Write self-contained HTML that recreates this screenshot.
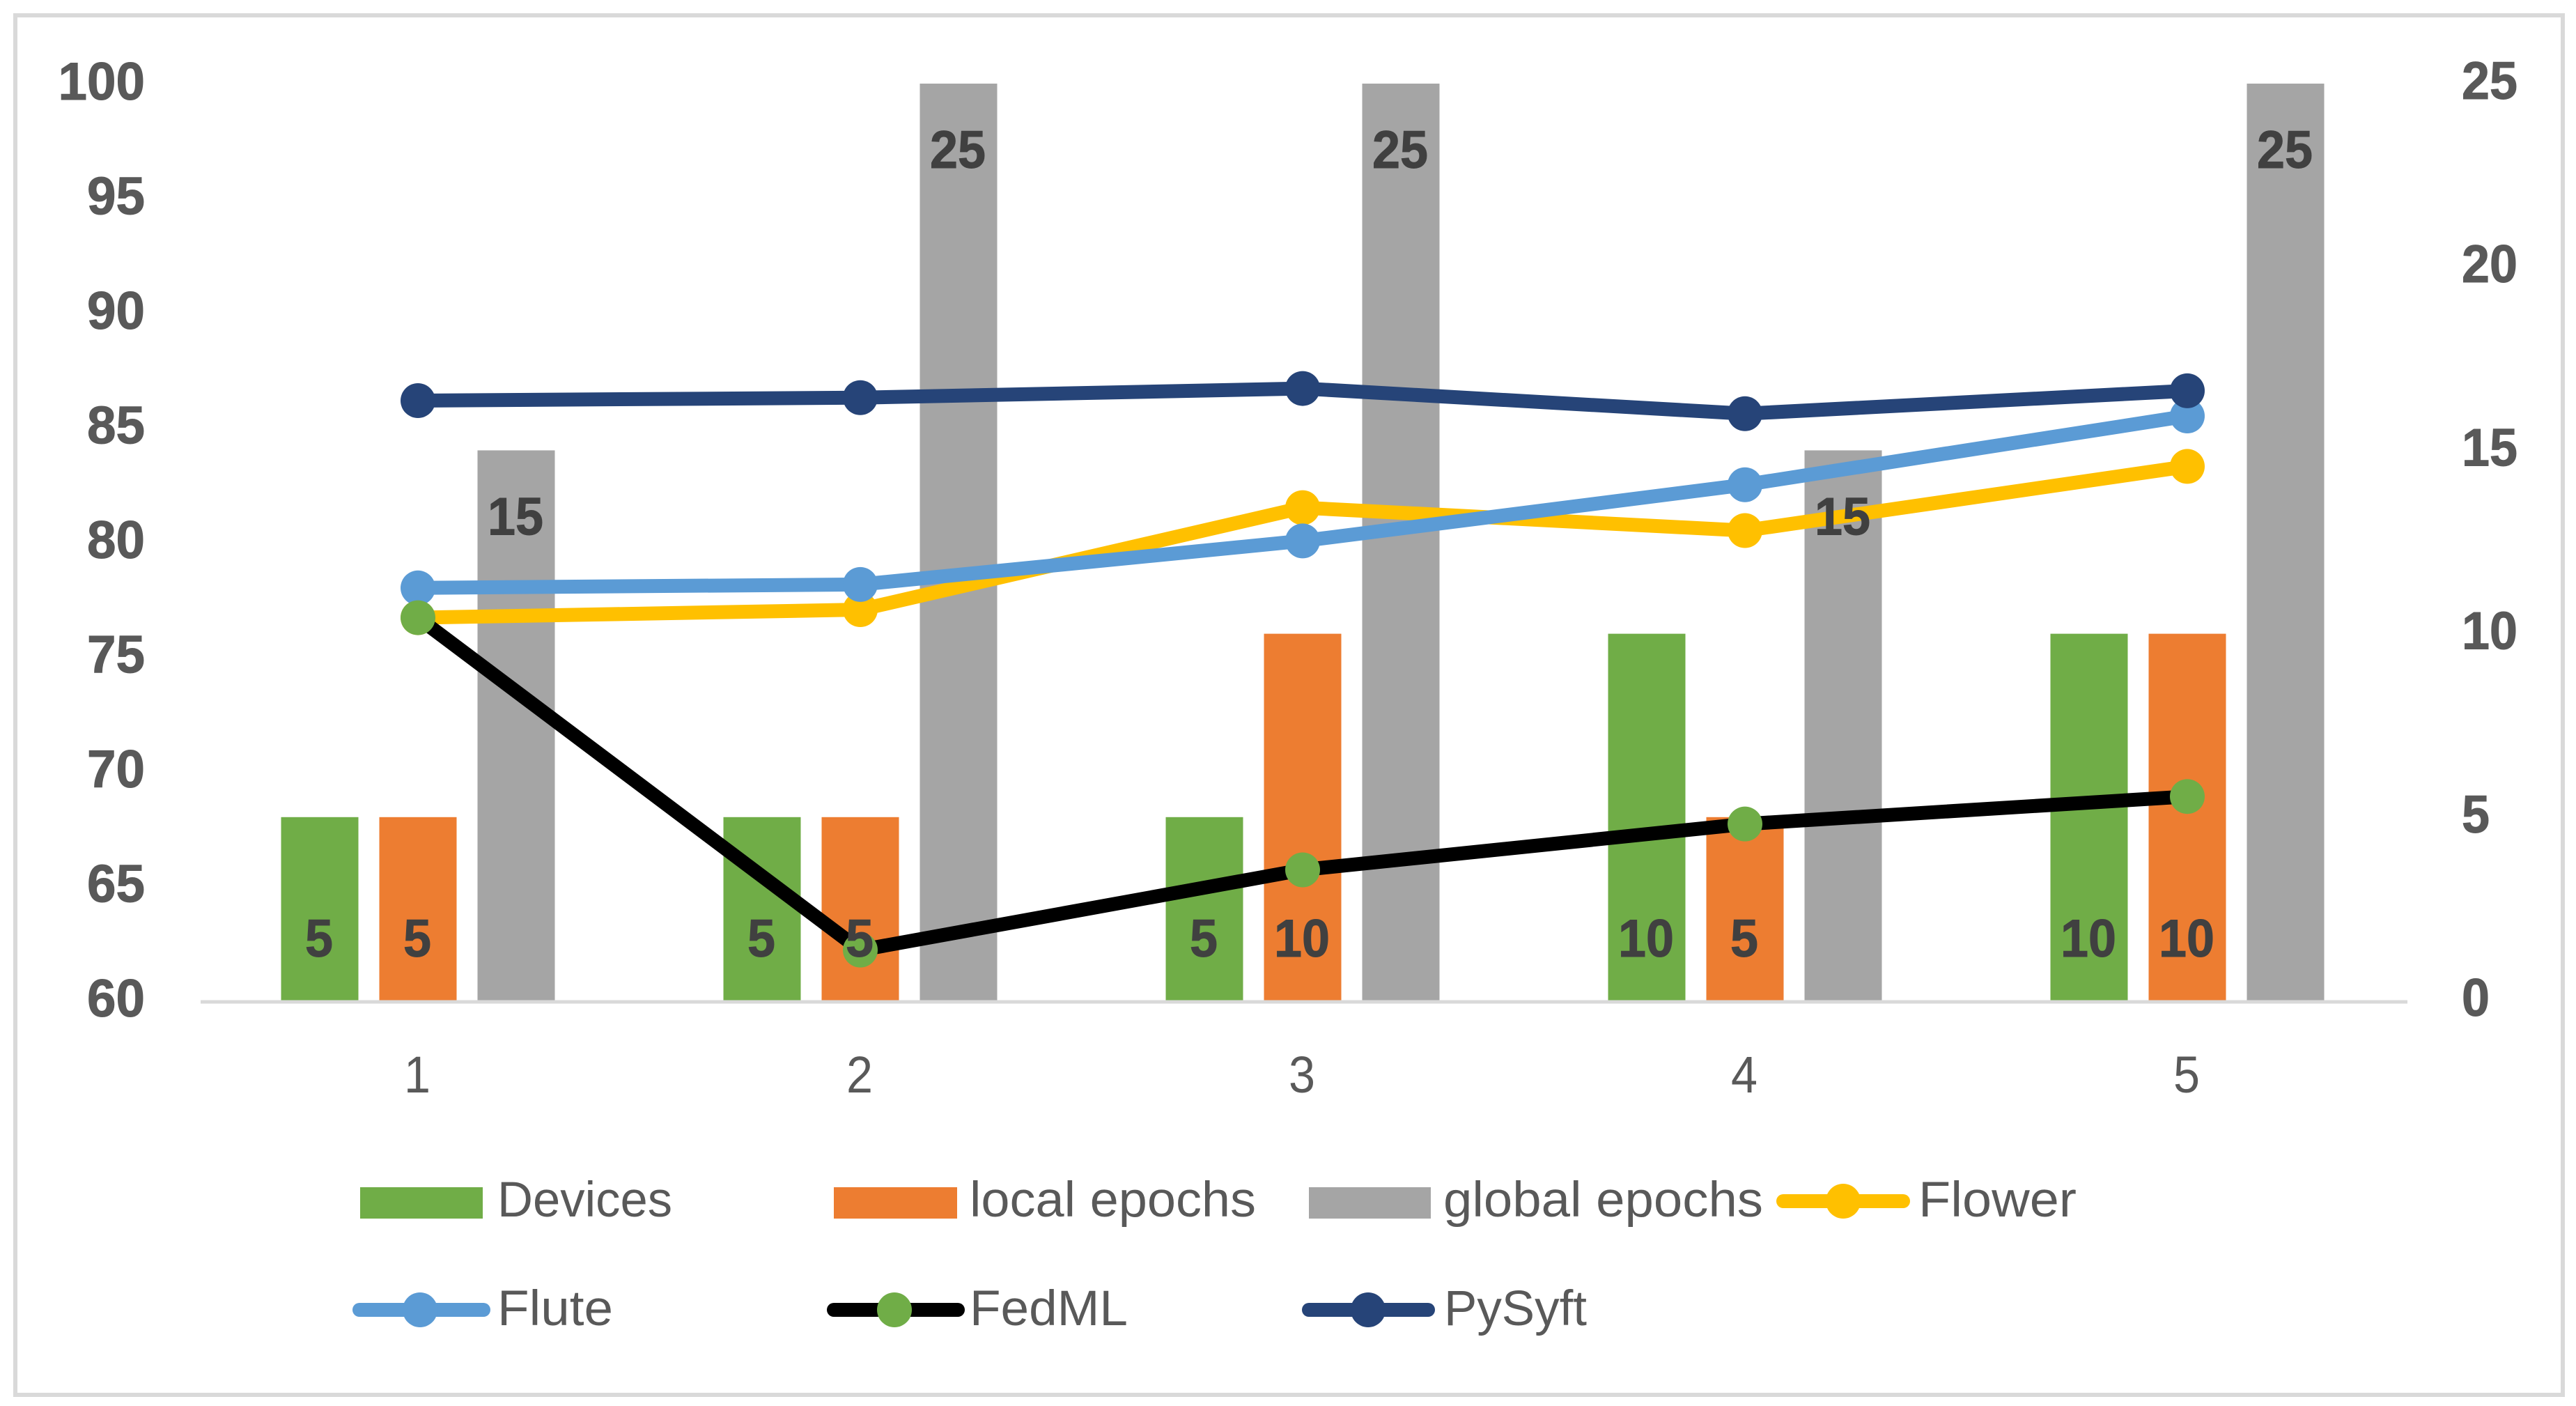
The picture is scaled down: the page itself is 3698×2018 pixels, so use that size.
<!DOCTYPE html>
<html lang="en">
<head>
<meta charset="utf-8">
<title>Framework accuracy chart</title>
<style>
html,body{margin:0;padding:0;background:#fff;}
svg{display:block;font-family:"Liberation Sans",sans-serif;}
.tick{font-size:76px;font-weight:700;fill:#595959;stroke:#595959;stroke-width:1px;}
.cat{font-size:74px;fill:#595959;}
.lab{font-size:76px;font-weight:700;fill:#404040;stroke:#404040;stroke-width:1px;}
.leg{font-size:71px;fill:#595959;}
</style>
</head>
<body>
<svg id="chart" xmlns="http://www.w3.org/2000/svg" width="3698" height="2018" viewBox="0 0 3698 2018">
  <rect x="0" y="0" width="3698" height="2018" fill="#ffffff"/>
  <rect x="22" y="22" width="3657" height="1980" fill="none" stroke="#d9d9d9" stroke-width="6"/>
  <g id="bars"></g>
  <line x1="288" y1="1438" x2="3456" y2="1438" stroke="#d9d9d9" stroke-width="5"/>
  <g id="lines"></g>
  <g id="labels"></g>
  <g id="ticks"></g>
  <g>
    <g>
      <rect x="517" y="1704" width="176" height="45" fill="#70ad47"/>
      <text class="leg" x="714" y="1746" textLength="251" lengthAdjust="spacingAndGlyphs">Devices</text>
    </g>
    <g>
      <rect x="1197" y="1704" width="177" height="45" fill="#ed7d31"/>
      <text class="leg" x="1392" y="1746" textLength="411" lengthAdjust="spacingAndGlyphs">local epochs</text>
    </g>
    <g>
      <rect x="1879" y="1704" width="175" height="45" fill="#a5a5a5"/>
      <text class="leg" x="2072" y="1746" textLength="459" lengthAdjust="spacingAndGlyphs">global epochs</text>
    </g>
    <g>
      <line x1="2560" y1="1724" x2="2732" y2="1724" stroke="#ffc000" stroke-width="20" stroke-linecap="round"/>
      <circle cx="2646" cy="1724" r="25" fill="#ffc000"/>
      <text class="leg" x="2754" y="1746" textLength="227" lengthAdjust="spacingAndGlyphs">Flower</text>
    </g>
    <g>
      <line x1="516" y1="1880" x2="694" y2="1880" stroke="#5b9bd5" stroke-width="20" stroke-linecap="round"/>
      <circle cx="603" cy="1880" r="25" fill="#5b9bd5"/>
      <text class="leg" x="714" y="1902" textLength="166" lengthAdjust="spacingAndGlyphs">Flute</text>
    </g>
    <g>
      <line x1="1197" y1="1880" x2="1375" y2="1880" stroke="#000000" stroke-width="20" stroke-linecap="round"/>
      <circle cx="1284" cy="1880" r="25" fill="#70ad47"/>
      <text class="leg" x="1392" y="1902" textLength="227" lengthAdjust="spacingAndGlyphs">FedML</text>
    </g>
    <g>
      <line x1="1879" y1="1880" x2="2050" y2="1880" stroke="#264478" stroke-width="20" stroke-linecap="round"/>
      <circle cx="1964" cy="1880" r="25" fill="#264478"/>
      <text class="leg" x="2073" y="1902" textLength="205" lengthAdjust="spacingAndGlyphs">PySyft</text>
    </g>
  </g>
</svg>
<script>
const categories = ['1', '2', '3', '4', '5'];
const devices = [5, 5, 5, 10, 10];
const localEpochs = [5, 5, 10, 5, 10];
const globalEpochs = [15, 25, 25, 15, 25];
const flower = [76.7, 77.05, 81.5, 80.5, 83.3];
const flute = [78.0, 78.15, 80.05, 82.5, 85.5];
const fedml = [76.7, 62.2, 65.7, 67.7, 68.9];
const pysyft = [86.17, 86.3, 86.7, 85.6, 86.6];
const leftTicks = [60, 65, 70, 75, 80, 85, 90, 95, 100];
const rightTicks = [0, 5, 10, 15, 20, 25];

const NS = 'http://www.w3.org/2000/svg';
const plotTop = 120, plotBottom = 1436, firstCat = 600, catStep = 635;
const barW = 111, barStep = 141;

function xCat(i) { return firstCat + catStep * i; }
function yLeft(v) { return plotBottom - (v - 60) / 40 * (plotBottom - plotTop); }
function yRight(v) { return plotBottom - v / 25 * (plotBottom - plotTop); }
function make(tag, parent, attrs) {
  const el = document.createElementNS(NS, tag);
  for (const k in attrs) el.setAttribute(k, attrs[k]);
  parent.appendChild(el);
  return el;
}

const barsG = document.getElementById('bars');
const linesG = document.getElementById('lines');
const labelsG = document.getElementById('labels');
const ticksG = document.getElementById('ticks');

function drawBars(values, offset, color, key, insideEnd) {
  values.forEach(function (v, i) {
    const cx = xCat(i) + offset * barStep;
    const top = yRight(v);
    const bar = make('rect', barsG, { x: cx - barW / 2, y: top, width: barW, height: plotBottom - top, fill: color });
    
    
    const by = insideEnd ? top + 121 : plotBottom - 63;
    const s = String(v);
    const t = make('text', labelsG, { class: 'lab', x: cx - 1, y: by, 'text-anchor': 'middle', textLength: 40 * s.length, lengthAdjust: 'spacingAndGlyphs' });
    t.textContent = s;
    
    
  });
}
drawBars(devices, -1, '#70ad47', 'devices', false);
drawBars(localEpochs, 0, '#ed7d31', 'local-epochs', false);
drawBars(globalEpochs, 1, '#a5a5a5', 'global-epochs', true);

function drawLine(values, color, markerColor, key) {
  const pts = values.map(function (v, i) { return xCat(i) + ',' + yLeft(v); }).join(' ');
  const line = make('polyline', linesG, { points: pts, fill: 'none', stroke: color, 'stroke-width': 20, 'stroke-linejoin': 'round', 'stroke-linecap': 'round' });
  
  
  values.forEach(function (v, i) {
    const c = make('circle', linesG, { cx: xCat(i), cy: yLeft(v), r: 25, fill: markerColor });
    
    
  });
}
drawLine(flower, '#ffc000', '#ffc000', 'flower');
drawLine(flute, '#5b9bd5', '#5b9bd5', 'flute');
drawLine(fedml, '#000000', '#70ad47', 'fedml');
drawLine(pysyft, '#264478', '#264478', 'pysyft');

leftTicks.forEach(function (v) {
  const s = String(v);
  const t = make('text', ticksG, { class: 'tick', x: 208, y: yLeft(v) + 23, 'text-anchor': 'end', textLength: 41.5 * s.length, lengthAdjust: 'spacingAndGlyphs' });
  t.textContent = s;
  
  
});
rightTicks.forEach(function (v) {
  const s = String(v);
  const t = make('text', ticksG, { class: 'tick', x: 3534, y: yRight(v) + 22, textLength: 40 * s.length, lengthAdjust: 'spacingAndGlyphs' });
  t.textContent = s;
  
  
});
categories.forEach(function (c, i) {
  const t = make('text', ticksG, { class: 'cat', x: xCat(i) - 1, y: 1568, 'text-anchor': 'middle', textLength: 38, lengthAdjust: 'spacingAndGlyphs' });
  t.textContent = c;
  
  
});
</script>
</body>
</html>
